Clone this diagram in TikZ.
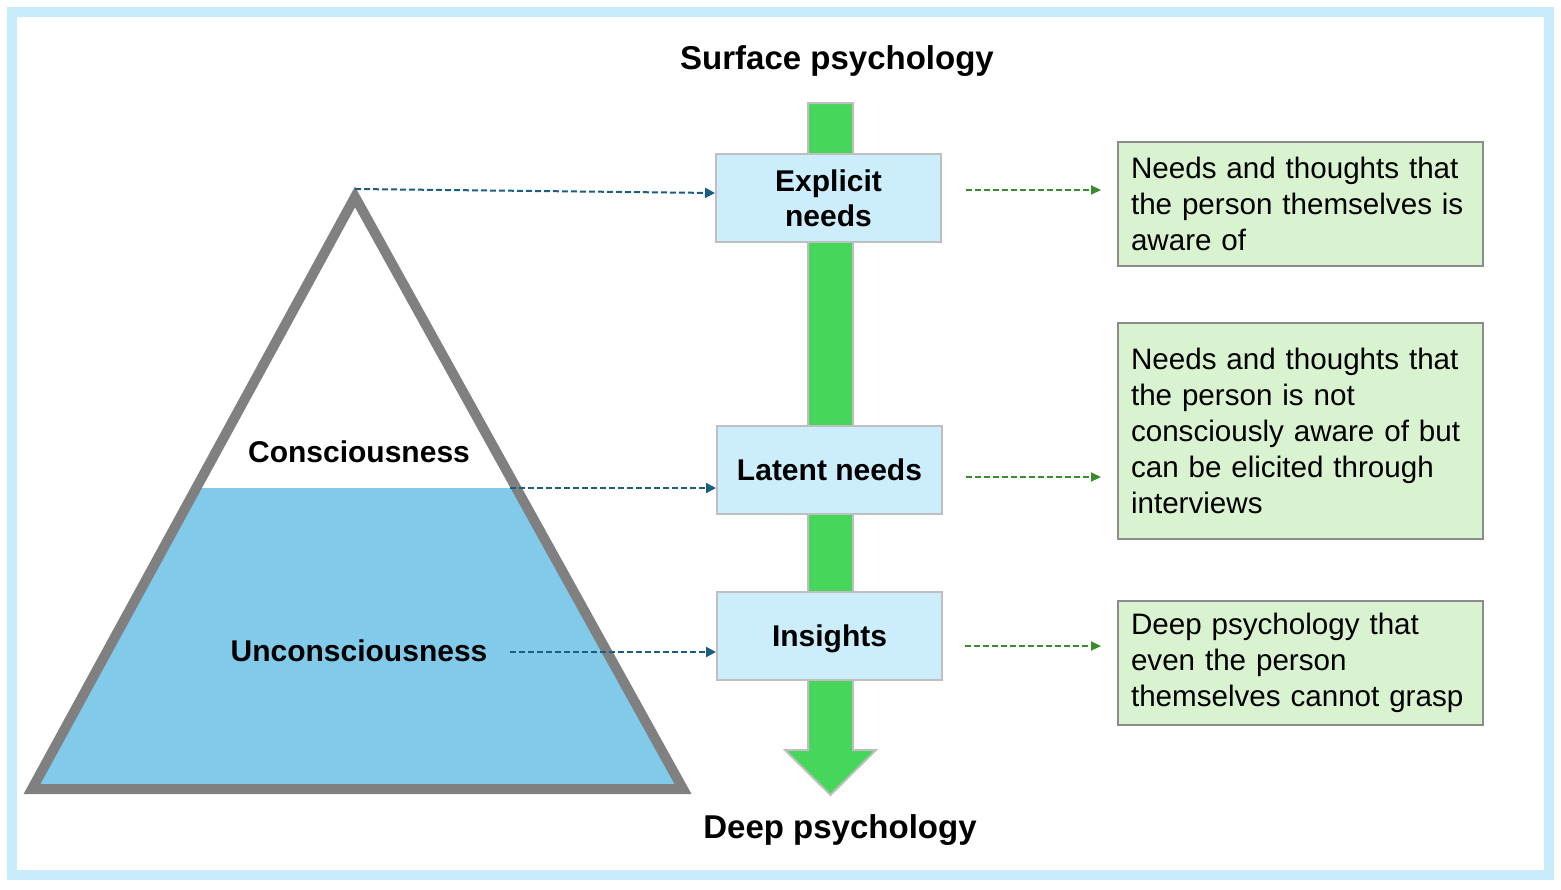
\documentclass[tikz,border=0pt]{standalone}
\usepackage{fontspec}
\setmainfont{Liberation Sans}
\usepackage{xcolor}
\usepackage{tikz}
\usetikzlibrary{positioning, arrows.meta, calc}
\definecolor{framecyan}{HTML}{C8ECFB}
\definecolor{waterblue}{HTML}{82CAEA}
\definecolor{rockgray}{HTML}{808080}
\definecolor{levelfill}{HTML}{CCEDFB}
\definecolor{levelborder}{HTML}{BFBFBF}
\definecolor{flowgreen}{HTML}{45D65B}
\definecolor{notefill}{HTML}{D9F2D0}
\definecolor{noteborder}{HTML}{8C8C8C}
\definecolor{linkblue}{HTML}{1B5E80}
\definecolor{linkgreen}{HTML}{3A8A2E}

\tikzset{
    levelbox/.style={fill=levelfill, draw=levelborder, line width=1pt, inner sep=0pt,
        minimum width=112.5pt, minimum height=44pt, align=center,
        font=\fontsize{15}{17.5}\selectfont\bfseries},
    notebox/.style={fill=notefill, draw=noteborder, line width=1pt, inner xsep=6.5pt,
        inner ysep=0pt, text width=169.5pt, align=left,
        font=\fontsize{14.8}{18}\selectfont},
    bluelink/.style={draw=linkblue, line width=1pt, dash pattern=on 3pt off 1.5pt,
        -{Triangle[length=5pt,width=5pt]}},
    greenlink/.style={draw=linkgreen, line width=1pt, dash pattern=on 3pt off 1.5pt,
        -{Triangle[length=5pt,width=4.5pt]}},
    headline/.style={font=\fontsize{16.5}{19}\selectfont\bfseries},
    layerlabel/.style={font=\fontsize{15}{18}\selectfont\bfseries}
}

\begin{document}
\begin{tikzpicture}[x=0.5pt, y=-0.5pt]
    \useasboundingbox (0,0) rectangle (1561,889);
    \draw[framecyan, line width=5pt] (12,12) rectangle (1549,875);

    % iceberg
    \fill[waterblue] (196.2,488) -- (516.2,488) -- (683,789) -- (32,789) -- cycle;
    \draw[rockgray, line width=5pt, line join=miter] (355,197) -- (683,789) -- (32,789) -- cycle;
    \coordinate (peak) at (355,189);
    \coordinate (shore) at (510,488);
    \coordinate (depth) at (510,652);
    \node[layerlabel] (conscious) at (359,452) {Consciousness};
    \node[layerlabel] (unconscious) at (359,651) {Unconsciousness};

    % depth arrow
    \draw[fill=flowgreen, draw=levelborder, line width=1pt, line join=miter]
        (808,103) -- (853,103) -- (853,750) -- (876,750) -- (830.5,795)
        -- (785,750) -- (808,750) -- cycle;
    \node[headline] (surface) at (837,61) {Surface psychology};
    \node[headline] (deep) at (840,830) {Deep psychology};

    \node[levelbox] (explicit) at (828.5,198) {Explicit\\needs};
    \node[levelbox] (latent) at (829.5,470) {Latent needs};
    \node[levelbox, text depth=0pt] (insights) at (829.5,636) {Insights};

    \node[notebox, minimum height=62pt] (note1) at (1300.5,204)
        {Needs and thoughts that\\the person themselves is\\aware of};
    \node[notebox, minimum height=108pt] (note2) at (1300.5,431)
        {Needs and thoughts that\\the person is not\\consciously aware of but\\can be elicited through\\interviews};
    \node[notebox, minimum height=62pt] (note3) at (1300.5,663)
        {Deep psychology that\\even the person\\themselves cannot grasp};

    \draw[bluelink] (peak) -- ([yshift=2.5pt]explicit.west);
    \draw[bluelink] (shore) -- ([yshift=-9pt]latent.west);
    \draw[bluelink] (depth) -- ([yshift=-8pt]insights.west);

    \draw[greenlink] ([xshift=12pt,yshift=4pt]explicit.east) -- ++(67.5pt,0);
    \draw[greenlink] ([xshift=11.5pt,yshift=-3.5pt]latent.east) -- ++(67.5pt,0);
    \draw[greenlink] ([xshift=11pt,yshift=-5pt]insights.east) -- ++(68pt,0);
\end{tikzpicture}
\end{document}
